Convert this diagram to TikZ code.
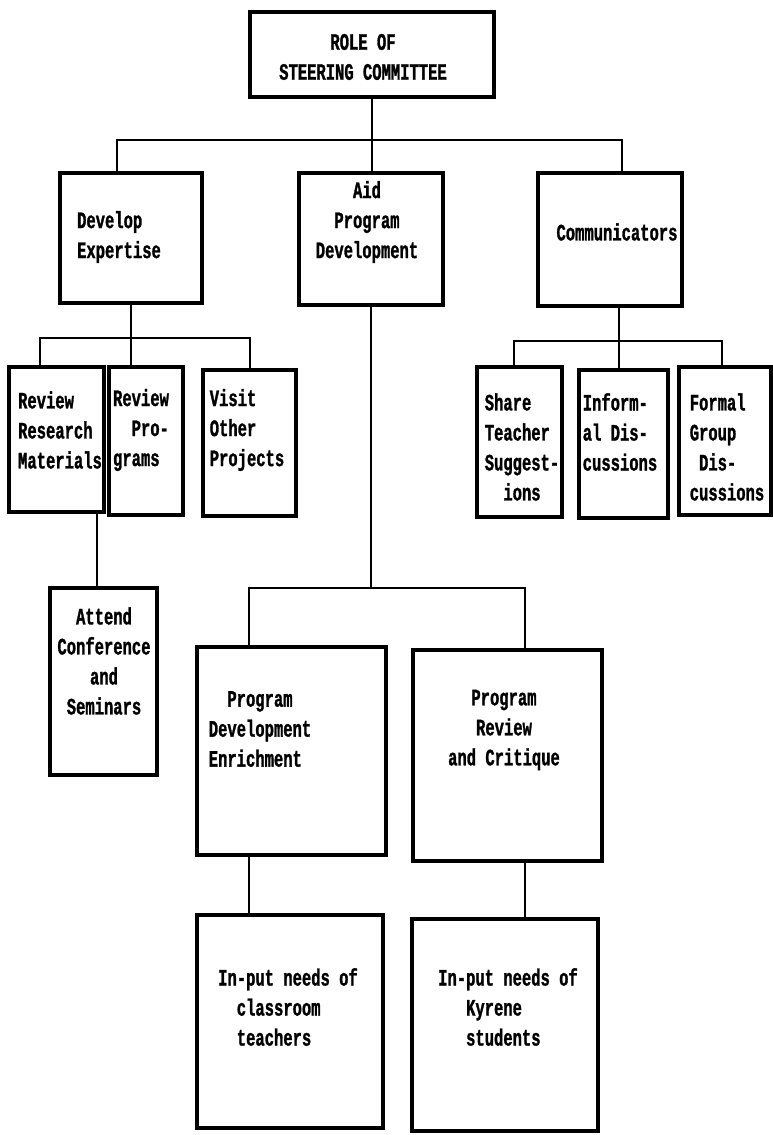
\documentclass[tikz,border=0pt]{standalone}
\usepackage{fontspec}
\newfontfamily\dotfont[FakeStretch=0.66, BoldFeatures={FakeBold=1.2}]{Liberation Mono}
\usetikzlibrary{positioning}
\tikzset{
    chart/.style={x=1pt, y=-1pt, line join=miter},
    box/.style 2 args={draw, line width=3.2pt, minimum width=#1pt, minimum height=#2pt, inner sep=0pt},
    txt/.style={font=\dotfont\bfseries\fontsize{23.5}{30}\selectfont, inner sep=0pt},
    link/.style={line width=2.6pt},
}

\begin{document}
\begin{tikzpicture}[chart]
    \useasboundingbox (0,0) rectangle (772,1135);

    % boxes
    \node[box={244}{85}]  (root) at (372,54.5) {};
    \node[box={142}{130}] (dev)  at (131,238) {};
    \node[box={144}{132}] (aid)  at (371,239) {};
    \node[box={144}{133}] (com)  at (610,239.5) {};

    \node[box={95}{145}]  (rrm) at (56.5,439.5) {};
    \node[box={74}{148}]  (rpg) at (146,441) {};
    \node[box={93}{146}]  (vop) at (249.5,443) {};
    \node[box={107}{187}] (att) at (103.5,681.5) {};

    \node[box={85}{150}]  (sts) at (519.5,442) {};
    \node[box={89}{148}]  (inf) at (623.5,444) {};
    \node[box={92}{148}]  (fgd) at (725,441) {};

    \node[box={189}{208}] (pde) at (291.5,751) {};
    \node[box={189}{211}] (prc) at (507.5,755.5) {};
    \node[box={186}{213}] (ict) at (290,1021.5) {};
    \node[box={186}{212}] (iks) at (505,1025) {};

    % texts
    \node[txt, align=center] (rootT) at (363,57) {ROLE OF\\STEERING COMMITTEE};
    \node[txt, align=left]   (devT)  at (119,237) {Develop\\Expertise};
    \node[txt, align=center] (aidT)  at (367,222) {Aid\\Program\\Development};
    \node[txt]               (comT)  at (617,232) {Communicators};

    \node[txt, align=left] (rrmT) at (60,430)  {Review\\Research\\Materials};
    \node[txt, align=left] (rpgT) at (141,430) {Review\\\hphantom{Re}Pro-\\grams};
    \node[txt, align=left] (vopT) at (247,430) {Visit\\Other\\Projects};
    \node[txt, align=center] (attT) at (104,661) {Attend\\Conference\\and\\Seminars};

    \node[txt, align=left] (stsT) at (522,447) {Share\\Teacher\\Suggest-\\\hphantom{xx}ions};
    \node[txt, align=left] (infT) at (620,432) {Inform-\\al Dis-\\cussions};
    \node[txt, align=left] (fgdT) at (727,447) {Formal\\Group\\\hphantom{x}Dis-\\cussions};

    \node[txt, align=left]   (pdeT) at (260,729)  {\hphantom{xx}Program\\Development\\Enrichment};
    \node[txt, align=center] (prcT) at (504,730)  {Program\\Review\\and Critique};
    \node[txt, align=left]   (ictT) at (288,1007) {In-put needs of\\\hphantom{xx}classroom\\\hphantom{xx}teachers};
    \node[txt, align=left]   (iksT) at (508,1007) {In-put needs of\\\hphantom{xxx}Kyrene\\\hphantom{xxx}students};

    % bar coordinates
    \coordinate (t1) at (117,140);
    \coordinate (t2) at (622,140);
    \coordinate (d1) at (40,338);
    \coordinate (d2) at (250,338);
    \coordinate (r1) at (97,550);
    \coordinate (a1) at (249,588);
    \coordinate (a2) at (525,588);
    \coordinate (c0) at (619,341);
    \coordinate (c1) at (514,341);
    \coordinate (c2) at (722,341);

    % connectors
    \draw[link] (root.south) -- (root.south |- aid.north);
    \draw[link] (t1 |- dev.north) -- (t1) -- (t2) -- (t2 |- com.north);

    \draw[link] (dev.south) -- (dev.south |- rpg.north);
    \draw[link] (d1 |- rrm.north) -- (d1) -- (d2) -- (d2 |- vop.north);
    \draw[link] (rrm.south -| r1) -- (att.north -| r1);

    \draw[link] (c0 |- com.south) -- (c0 |- inf.north);
    \draw[link] (c1 |- sts.north) -- (c1) -- (c2) -- (c2 |- fgd.north);

    \draw[link] (aid.south) -- (aid.south |- a1);
    \draw[link] (a1 |- pde.north) -- (a1) -- (a2) -- (a2 |- prc.north);
    \draw[link] (pde.south -| a1) -- (ict.north -| a1);
    \draw[link] (prc.south -| a2) -- (iks.north -| a2);

\end{tikzpicture}
\end{document}
